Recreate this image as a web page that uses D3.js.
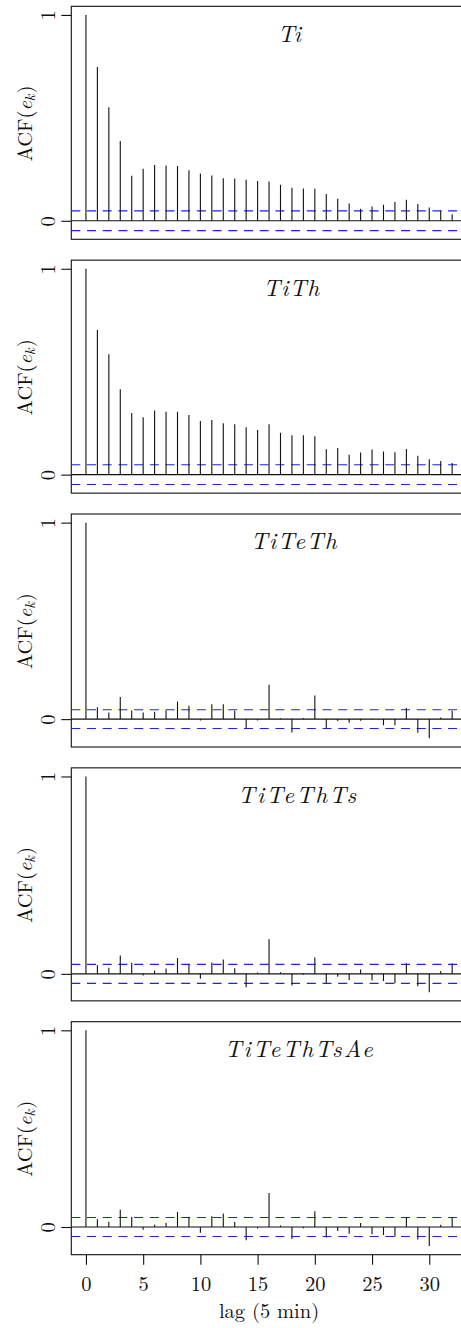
<!DOCTYPE html>
<html>
<head>
<meta charset="utf-8">
<script src="https://cdn.jsdelivr.net/npm/d3@7/dist/d3.min.js"></script>
<style>
html,body{margin:0;padding:0;background:#fff;}
svg{display:block;}
</style>
</head>
<body>
<script>
// ---- data ----
const lags = [0,1,2,3,4,5,6,7,8,9,10,11,12,13,14,15,16,17,18,19,20,21,22,23,24,25,26,27,28,29,30,31,32];
const ci = 0.048;
const panelTitles = ["Ti", "TiTh", "TiTeTh", "TiTeThTs", "TiTeThTsAe"];
const acfTi = [1, 0.747, 0.551, 0.387, 0.219, 0.253, 0.271, 0.269, 0.266, 0.246, 0.230, 0.220, 0.207, 0.206, 0.199, 0.193, 0.191, 0.175, 0.160, 0.157, 0.156, 0.130, 0.107, 0.084, 0.058, 0.070, 0.078, 0.091, 0.102, 0.081, 0.065, 0.050, 0.032];
const acfTiTh = [1, 0.703, 0.585, 0.415, 0.300, 0.279, 0.311, 0.306, 0.305, 0.290, 0.261, 0.266, 0.250, 0.245, 0.230, 0.217, 0.245, 0.203, 0.191, 0.191, 0.186, 0.123, 0.130, 0.097, 0.107, 0.122, 0.112, 0.109, 0.125, 0.092, 0.075, 0.066, 0.057];
const acfTiTeTh = [1, 0.061, 0.034, 0.112, 0.044, 0.034, 0.037, 0.044, 0.090, 0.068, -0.007, 0.076, 0.076, 0.042, -0.046, -0.007, 0.175, 0.005, -0.068, 0.006, 0.120, -0.047, -0.010, -0.019, -0.008, -0.002, -0.031, -0.031, 0.056, -0.069, -0.098, 0.008, 0.042];
const acfTiTeThTs = [1, 0.044, 0.031, 0.093, 0.056, -0.008, 0.017, 0.027, 0.081, 0.047, -0.025, 0.058, 0.073, 0.029, -0.068, 0.007, 0.175, 0.008, -0.059, -0.005, 0.083, -0.047, -0.015, -0.031, 0.022, -0.034, -0.036, -0.047, 0.054, -0.063, -0.093, 0.014, 0.053];
const acfTiTeThTsAe = [1, 0.039, 0.027, 0.088, 0.051, -0.014, 0.012, 0.022, 0.076, 0.051, -0.029, 0.054, 0.069, 0.025, -0.068, -0.008, 0.173, 0.008, -0.061, -0.007, 0.080, -0.054, -0.020, -0.034, 0.020, -0.037, -0.041, -0.049, 0.049, -0.064, -0.097, 0.012, 0.049];
const xTicks = [0, 5, 10, 15, 20, 25, 30];
const yTicks = [0, 1];
const xLabel = "lag (5 min)";

const series = [acfTi, acfTiTh, acfTiTeTh, acfTiTeThTs, acfTiTeThTsAe];

// ---- layout ----
const W = 461, H = 1328;
const plotLeft = 71.3, plotRight = 466.8;
const panelTop0 = 6.3, panelStep = 253.85, panelH = 233;
const titleCx = [289.3, 291.3, 293.7, 297, 298.7];
const titleW = [23.3, 56, 86, 118, 148];
const font = '"Latin Modern Roman","Liberation Serif",serif';

const svg = d3.select("body").append("svg")
  .attr("width", W).attr("height", H)
  .attr("viewBox", `0 0 ${W} ${H}`);

const xMin = d3.min(lags), xMax = d3.max(lags);
const xPad = 0.04 * (xMax - xMin);
const x = d3.scaleLinear().domain([xMin - xPad, xMax + xPad]).range([plotLeft, plotRight]);

series.forEach((vals, i) => {
  const top = panelTop0 + i * panelStep;
  const bottom = top + panelH;
  const lo = Math.min(d3.min(vals), -ci), hi = Math.max(d3.max(vals), ci);
  const pad = 0.04 * (hi - lo);
  const y = d3.scaleLinear().domain([lo - pad, hi + pad]).range([bottom, top]);

  const g = svg.append("g");

  const clipId = "clip" + i;
  svg.append("clipPath").attr("id", clipId).append("rect")
    .attr("x", plotLeft).attr("y", top).attr("width", plotRight - plotLeft).attr("height", panelH);

  const inner = g.append("g").attr("clip-path", `url(#${clipId})`);

  // CI lines
  [ci, -ci].forEach(c => {
    inner.append("line")
      .attr("x1", plotLeft).attr("x2", plotRight)
      .attr("y1", y(c)).attr("y2", y(c))
      .attr("stroke", "#1f1fff").attr("stroke-width", 1.1)
      .attr("stroke-dasharray", "9,6.7");
  });

  // bars
  inner.selectAll("line.bar").data(lags).enter().append("line")
    .attr("class", "bar")
    .attr("x1", d => x(d)).attr("x2", d => x(d))
    .attr("y1", y(0)).attr("y2", d => y(vals[d]))
    .attr("stroke", "#111").attr("stroke-width", 1.1);

  // zero line
  inner.append("line")
    .attr("x1", plotLeft).attr("x2", plotRight)
    .attr("y1", y(0)).attr("y2", y(0))
    .attr("stroke", "#111").attr("stroke-width", 1.1);

  // box
  g.append("rect")
    .attr("x", plotLeft).attr("y", top)
    .attr("width", plotRight - plotLeft).attr("height", panelH)
    .attr("fill", "none").attr("stroke", "#111").attr("stroke-width", 1.1);

  // y axis ticks
  const yAxis = d3.axisLeft(y).tickValues(yTicks).tickSize(10).tickPadding(0).tickFormat(d3.format("d"));
  const ya = g.append("g").attr("transform", `translate(${plotLeft},0)`).call(yAxis);
  ya.select(".domain").remove();
  ya.selectAll(".tick line").attr("stroke", "#111").attr("stroke-width", 1.1);
  ya.selectAll(".tick text").remove();
  ya.selectAll(".tick").append("text")
    .attr("transform", "translate(-16.8,0) rotate(-90)")
    .attr("text-anchor", "middle")
    .attr("fill", "#111")
    .style("font-family", font).style("font-size", "20.5px")
    .text(d => d3.format("d")(d));

  // y label
  const yl = g.append("text")
    .attr("transform", `translate(32,${top + panelH / 2 + 0.7}) rotate(-90)`)
    .attr("text-anchor", "middle")
    .attr("fill", "#111")
    .style("font-family", font).style("font-size", "20.5px");
  yl.append("tspan").text("ACF(");
  yl.append("tspan").style("font-style", "italic").text("e");
  yl.append("tspan").style("font-style", "italic").style("font-size", "14.5px").attr("dy", 3).text("k");
  yl.append("tspan").attr("dy", -3).attr("dx", 1).text(")");

  // title
  g.append("text")
    .attr("x", titleCx[i] - titleW[i] / 2).attr("y", top + 35.4)
    .attr("text-anchor", "start")
    .attr("textLength", titleW[i]).attr("lengthAdjust", "spacing")
    .attr("fill", "#111")
    .style("font-family", font).style("font-style", "italic").style("font-size", "23.5px")
    .text(panelTitles[i]);

  // x axis on last panel
  if (i === series.length - 1) {
    const xAxis = d3.axisBottom(x).tickValues(xTicks).tickSize(10).tickPadding(0).tickFormat(d3.format("d"));
    const xa = g.append("g").attr("transform", `translate(0,${bottom})`).call(xAxis);
    xa.select(".domain").remove();
    xa.selectAll(".tick line").attr("stroke", "#111").attr("stroke-width", 1.1);
    xa.selectAll(".tick text")
      .attr("y", 36.4).attr("dy", 0)
      .attr("fill", "#111")
      .style("font-family", font).style("font-size", "20.5px");

    g.append("text")
      .attr("x", (plotLeft + plotRight) / 2).attr("y", bottom + 63.5)
      .attr("text-anchor", "middle")
      .attr("fill", "#111")
      .style("font-family", font).style("font-size", "20.5px")
      .text(xLabel);
  }
});
</script>
</body>
</html>
